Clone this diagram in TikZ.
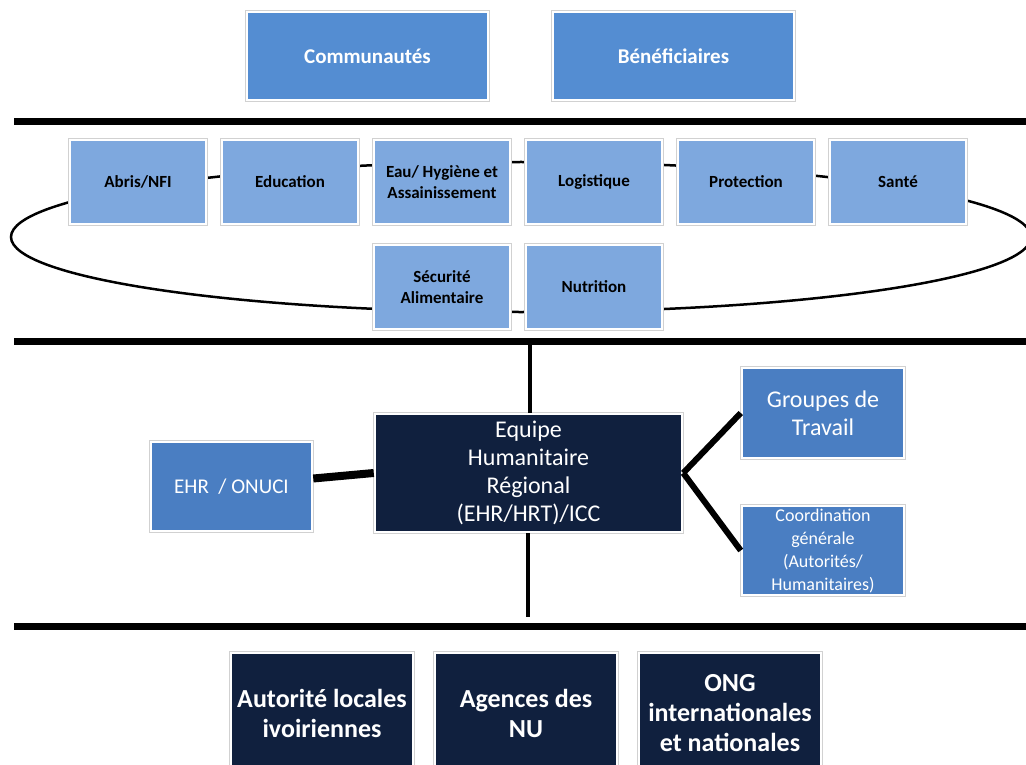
\documentclass[tikz,border=0pt]{standalone}
\usepackage{fontspec}
\setmainfont{Carlito}
\definecolor{topblue}{RGB}{84,141,210}
\definecolor{clublue}{RGB}{126,168,222}
\definecolor{midblue}{RGB}{74,126,194}
\definecolor{navy}{RGB}{16,32,62}
\begin{document}
\begin{tikzpicture}[x=1pt,y=-1pt,
  box/.style={rectangle, inner sep=2pt, align=center, draw=white, line width=2.5pt,
              preaction={draw=black!18, line width=4pt}},
  topbox/.style={box, fill=topblue, text=white, font=\bfseries\fontsize{21}{25}\selectfont,
              minimum width=241pt, minimum height=88pt},
  clubox/.style={box, fill=clublue, text=black, font=\bfseries\fontsize{17}{21}\selectfont,
              minimum width=136pt, minimum height=84pt},
  midbox/.style={box, fill=midblue, text=white},
  botbox/.style={box, fill=navy, text=white, font=\bfseries\fontsize{26}{30}\selectfont,
              minimum width=182pt, minimum height=120pt},
  band/.style={line width=7pt},
  link/.style={line width=6pt}]
\useasboundingbox (0,0) rectangle (1026,765);
\clip (0,0) rectangle (1026,765);
% horizontal bands
\coordinate (b1l) at (14,122); \coordinate (b1r) at (1030,122);
\coordinate (b2l) at (14,341); \coordinate (b2r) at (1030,341);
\coordinate (b3l) at (14,626); \coordinate (b3r) at (1030,626);
\draw[band] (b1l) -- (b1r);
\draw[band] (b2l) -- (b2r);
\draw[band] (b3l) -- (b3r);
% ellipse behind clusters
\draw[line width=2.5pt] (521,237) ellipse [x radius=510pt, y radius=75pt];
% top boxes
\node[topbox] (comm) at (367.5,56) {Communautés};
\node[topbox] (bene) at (673.5,56) {Bénéficiaires};
% clusters
\node[clubox] (abris) at (138,182) {Abris/NFI};
\node[clubox] (edu)   at (290,182) {Education};
\node[clubox] (eau)   at (442,182) {Eau/ Hygiène et\\Assainissement};
\node[clubox] (logi)  at (594,182) {Logistique};
\node[clubox] (prot)  at (746,182) {Protection};
\node[clubox] (sante) at (898,182) {Santé};
\node[clubox] (secu)  at (442,287) {Sécurité\\Alimentaire};
\node[clubox] (nutri) at (594,287) {Nutrition};
% middle
\node[box, fill=navy, text=white, font=\fontsize{24}{28}\selectfont,
      minimum width=307pt, minimum height=118pt] (ehr) at (528.5,473)
      {Equipe\\Humanitaire\\Régional\\(EHR/HRT)/ICC};
\node[midbox, font=\fontsize{21}{24}\selectfont, minimum width=161pt, minimum height=89pt]
      (onuci) at (231.5,486.5) {EHR~~/ ONUCI};
\node[midbox, font=\fontsize{24}{28}\selectfont, minimum width=162pt, minimum height=90pt]
      (grp) at (823,413) {Groupes de\\Travail};
\node[midbox, font=\fontsize{18}{23}\selectfont, minimum width=162pt, minimum height=89pt]
      (coord) at (823,550.5) {Coordination\\générale\\(Autorités/\\Humanitaires)};
% bottom
\node[botbox] (auto) at (322,713) {Autorité locales\\ivoiriennes};
\node[botbox] (nu)   at (526,713) {Agences des\\NU};
\node[botbox] (ong)  at (730,713) {ONG\\internationales\\et nationales};
% connectors
\coordinate (vtop) at (530,341);
\coordinate (vbot) at (528,617);
\draw[line width=4pt] (vtop) -- (ehr.north -| vtop);
\draw[line width=4pt] (ehr.south -| vbot) -- (vbot);
\draw[line width=8pt] ([yshift=8pt]onuci.east) -- (ehr.west);
\draw[link] (ehr.east) -- (grp.west);
\draw[link] (ehr.east) -- (coord.west);
\end{tikzpicture}
\end{document}
